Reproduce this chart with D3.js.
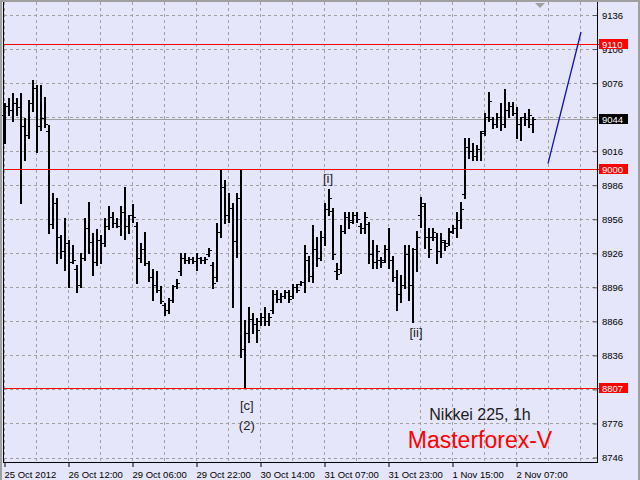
<!DOCTYPE html>
<html><head><meta charset="utf-8">
<script src="https://cdn.jsdelivr.net/npm/d3@7"></script>
<style>
html,body{margin:0;padding:0;background:#e6e6fa;}
svg{display:block;}
text{font-family:"Liberation Sans",Arial,sans-serif;}
</style></head><body>
<svg id="c" width="640" height="480"></svg>
<script>
// ---- data (Nikkei 225, 1h bars) ----
const highs=[9058,9063,9067,9063,9067,9045,9061,9079,9074,9074,
9064,9039,8979,8975,8942,8957,8938,8933,8916,8926,
8957,8971,8944,8947,8942,8957,8968,8962,8957,8968,
8984,8960,8969,8954,8935,8945,8919,8912,8910,8897,
8882,8887,8898,8903,8926,8926,8923,8923,8926,8923,
8923,8931,8918,8953,9000,8991,8979,8970,8979,9000,
8867,8879,8873,8869,8873,8879,8873,8894,8894,8891,
8894,8894,8899,8899,8902,8933,8924,8951,8940,8946,
8970,8983,8966,8917,8951,8962,8962,8962,8962,8953,
8962,8954,8938,8933,8923,8933,8948,8924,8911,8907,
8933,8933,8931,8946,8976,8970,8948,8948,8944,8944,
8938,8948,8951,8962,8971,9028,9028,9023,9021,9034,
9050,9068,9046,9050,9058,9071,9059,9059,9055,9046,
9050,9053,9046];
const lows=[9023,9048,9043,9048,8970,9008,9028,9051,9015,9035,
9037,8944,8948,8917,8922,8911,8896,8917,8892,8896,
8920,8926,8907,8916,8917,8932,8947,8949,8949,8942,
8939,8944,8954,8900,8918,8916,8902,8885,8892,8882,
8872,8873,8883,8895,8907,8917,8917,8917,8911,8917,
8917,8924,8895,8902,8940,8953,8954,8879,8923,8835,
8807,8848,8856,8848,8863,8863,8863,8873,8883,8883,
8887,8883,8887,8892,8898,8892,8902,8901,8915,8920,
8933,8960,8921,8903,8909,8944,8948,8953,8954,8944,
8944,8917,8913,8913,8914,8918,8913,8902,8876,8883,
8895,8885,8865,8910,8949,8931,8923,8938,8917,8923,
8929,8933,8944,8940,8948,8975,9010,9008,9008,9008,
9030,9043,9036,9037,9035,9037,9046,9048,9028,9026,
9039,9037,9033];
const opens=[9048,9056,9052,9058,9055,9038,9030,9058,9072,9038,
9045,9034,8952,8970,8940,8928,8935,8918,8912,8898,
8922,8948,8936,8918,8938,8935,8950,8958,8953,8950,
8962,8950,8960,8950,8922,8930,8917,8905,8898,8894,
8880,8876,8885,8897,8910,8922,8920,8921,8919,8922,
8920,8925,8916,8905,8945,8984,8960,8966,8937,8975,
8842,8856,8868,8864,8866,8870,8866,8876,8890,8886,
8888,8892,8888,8896,8899,8901,8920,8906,8930,8922,
8940,8965,8963,8910,8912,8946,8958,8955,8960,8950,
8948,8952,8925,8918,8920,8920,8930,8920,8905,8890,
8898,8925,8898,8930,8960,8968,8940,8940,8940,8928,
8936,8935,8946,8948,8955,8978,9020,9016,9012,9018,
9034,9046,9044,9040,9046,9040,9052,9056,9050,9040,
9046,9044,9040];
const closes=[9056,9052,9058,9055,9038,9030,9058,9072,9038,9045,
9040,8952,8970,8940,8928,8935,8918,8920,8898,8922,
8948,8936,8918,8938,8935,8950,8958,8953,8950,8962,
8950,8960,8958,8922,8930,8917,8905,8898,8894,8884,
8876,8885,8897,8900,8922,8920,8921,8919,8922,8920,
8921,8929,8900,8945,8984,8960,8966,8937,8975,8842,
8856,8868,8864,8858,8870,8866,8870,8890,8886,8888,
8892,8886,8896,8894,8901,8926,8906,8930,8922,8940,
8965,8975,8925,8908,8946,8958,8954,8960,8956,8948,
8958,8925,8918,8928,8918,8930,8920,8905,8890,8898,
8925,8898,8930,8940,8970,8940,8930,8945,8928,8938,
8932,8945,8948,8955,8965,9020,9016,9012,9018,9032,
9046,9060,9040,9046,9040,9052,9056,9050,9040,9046,
9044,9048,9044];
const tickIdx=[0,16,32,48,64,80,96,112,128];
const tickLabels=["25 Oct 2012","26 Oct 12:00","29 Oct 06:00","29 Oct 22:00","30 Oct 14:00","31 Oct 07:00","31 Oct 23:00","1 Nov 15:00","2 Nov 07:00"];
const priceTicks=[8746,8776,8806,8836,8866,8896,8926,8956,8986,9016,9046,9076,9106,9136];
const levels=[9110,9000,8807];
const bid=9044;
const forecastIdx=[136,144.25];
const forecastVal=[9005,9121];
const waveLabels=[{t:"[i]",i:81,v:8988},{t:"[ii]",i:103,v:8852},{t:"[c]",i:60.7,v:8788},{t:"(2)",i:60.7,v:8770}];

(function(){
const W=640,H=480;
const svg=d3.select("#c");
svg.append("rect").attr("width",W).attr("height",H).attr("fill","#e6e6fa");
const x=d3.scaleLinear().domain([0,148.25]).range([4,597]);
const y=d3.scaleLinear().domain([8746,9136]).range([457.5,15]);
const py=v=>Math.round(y(v))+0.5;
const px=i=>Math.round(x(i))+0.5;
const plotTop=2, plotBottom=462;

// grid
const g=svg.append("g").attr("stroke","#a0a0a0").attr("stroke-dasharray","3,3").attr("stroke-width",1).attr("shape-rendering","crispEdges");
priceTicks.forEach(v=>g.append("line").attr("x1",4).attr("x2",597).attr("y1",py(v)).attr("y2",py(v)));
d3.range(0,145,8).forEach(i=>g.append("line").attr("x1",px(i)).attr("x2",px(i)).attr("y1",plotTop).attr("y2",plotBottom));

// bid line
svg.append("line").attr("x1",4).attr("x2",600).attr("y1",py(bid)).attr("y2",py(bid)).attr("stroke","#a0a0a0").attr("shape-rendering","crispEdges");

// bars
const bars=svg.append("g").attr("fill","#000").attr("shape-rendering","crispEdges");
highs.forEach((h,i)=>{
  const bx=Math.round(x(i));
  const yt=Math.round(y(h)), yb=Math.round(y(lows[i]));
  bars.append("rect").attr("x",bx).attr("y",yt).attr("width",2).attr("height",Math.max(1,yb-yt+1));
  bars.append("rect").attr("x",bx-2).attr("y",Math.round(y(opens[i]))).attr("width",2).attr("height",1);
  bars.append("rect").attr("x",bx+2).attr("y",Math.round(y(closes[i]))).attr("width",2).attr("height",1);
});

// levels (drawn over the bars)
levels.forEach(v=>svg.append("rect").attr("x",4).attr("width",596).attr("y",Math.round(y(v))).attr("height",1).attr("fill","#ff0000"));

// forecast line
svg.append("path").datum(forecastIdx.map((d,k)=>[d,forecastVal[k]]))
  .attr("d",d3.line().x(d=>x(d[0])).y(d=>y(d[1])))
  .attr("stroke","#1010b0").attr("stroke-width",1.3).attr("fill","none");

// wave labels
waveLabels.forEach(w=>svg.append("text").attr("x",x(w.i)).attr("y",y(w.v)).attr("text-anchor","middle")
  .attr("font-size",13).attr("fill","#222").text(w.t));

// titles
svg.append("text").attr("x",480).attr("y",420).attr("text-anchor","middle").attr("font-size",16).attr("fill","#1a1a1a").text("Nikkei 225, 1h");
svg.append("text").attr("x",480).attr("y",448).attr("text-anchor","middle").attr("font-size",23).attr("fill","#ff0000").text("Masterforex-V");

// axes
const ax=svg.append("g").attr("transform",`translate(0,${plotBottom})`)
  .call(d3.axisBottom(x).tickValues(tickIdx).tickFormat((d,i)=>tickLabels[i]).tickSize(5).tickPadding(4));
ax.select(".domain").remove();
ax.selectAll(".tick line").attr("stroke","#000").attr("transform","translate(0.5,0)");
ax.selectAll(".tick text").attr("text-anchor","start").attr("font-size",9.5).attr("fill","#000")
  .attr("font-family","'Liberation Sans',Arial,sans-serif");

// labels that sit fully under a price box are hidden in the reference
const covered=v=>[...levels,bid].some(l=>l!==9110 && Math.abs(y(l)-y(v))<3);
const ay=svg.append("g").attr("transform","translate(597,0)")
  .call(d3.axisRight(y).tickValues(priceTicks).tickFormat(d=>covered(d)?"":d3.format("d")(d)).tickSize(-4).tickPadding(5));
ay.select(".domain").remove();
ay.selectAll(".tick line").attr("stroke","#555");
ay.selectAll(".tick text").attr("font-size",9.5).attr("fill","#000").attr("font-family","'Liberation Sans',Arial,sans-serif");

// price boxes
function box(v,bg){
  const cy=y(v);
  svg.append("rect").attr("x",599).attr("y",Math.round(cy)-5).attr("width",29).attr("height",10).attr("fill",bg);
  svg.append("text").attr("x",602).attr("y",cy).attr("dy","0.34em").attr("font-size",9.5).attr("fill","#fff").text(v);
}
levels.forEach(v=>box(v,"#ff0000"));
box(bid,"#000");

// frame
svg.append("line").attr("x1",3.5).attr("x2",3.5).attr("y1",0).attr("y2",plotBottom+0.5).attr("stroke","#000");
svg.append("line").attr("x1",597.5).attr("x2",597.5).attr("y1",0).attr("y2",plotBottom+0.5).attr("stroke","#000");
svg.append("line").attr("x1",3).attr("x2",598).attr("y1",plotBottom+0.5).attr("y2",plotBottom+0.5).attr("stroke","#000");
svg.append("rect").attr("x",0).attr("y",0).attr("width",W).attr("height",2).attr("fill","#a0a0a0");
svg.append("rect").attr("x",638).attr("y",0).attr("width",2).attr("height",H).attr("fill","#a0a0a0");
svg.append("rect").attr("x",0).attr("y",0).attr("width",2).attr("height",H).attr("fill","#a0a0a0");
svg.append("path").attr("d","M535,3L545,3L540,8Z").attr("fill","#a0a0a0");
})();
</script>
</body></html>
